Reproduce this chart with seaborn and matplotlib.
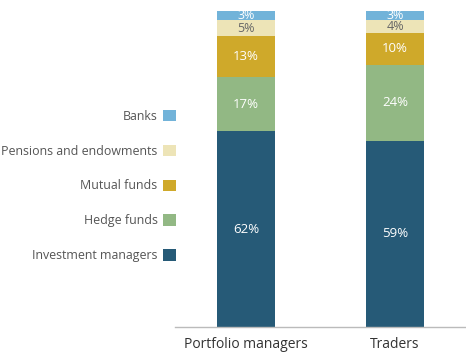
import matplotlib
matplotlib.use("Agg")
import matplotlib.pyplot as plt
import seaborn as sns
import numpy as np
from matplotlib.patches import Patch

groups = ["Portfolio managers", "Traders"]
segments = ["Investment managers", "Hedge funds", "Mutual funds", "Pensions and endowments", "Banks"]
investment = [62, 59]
hedge = [17, 24]
mutual = [13, 10]
pensions = [5, 4]
banks = [3, 3]
series = [investment, hedge, mutual, pensions, banks]
colors = ["#265a77", "#92b884", "#cfa92a", "#ede4b7", "#72b3d9"]
label_colors = ["white", "white", "white", "#666666", "white"]

sns.set_theme(style="white")
plt.rcParams["font.family"] = ["Open Sans", "DejaVu Sans"]

fig = plt.figure(figsize=(4.66, 3.63), dpi=100)
ax = fig.add_axes([175 / 466, 1 - 327 / 363, 291 / 466, 316 / 363])

bottom = np.zeros(len(groups))
for name, vals, col, lc in zip(segments, series, colors, label_colors):
    sns.barplot(x=groups, y=vals, bottom=bottom, color=col, width=0.39,
                ax=ax, saturation=1, linewidth=0)
    for i, v in enumerate(vals):
        ax.text(i, bottom[i] + v / 2, f"{v}%", ha="center", va="center",
                color=lc, fontsize=9.5 if v > 5 else 9, clip_on=True)
    bottom = bottom + np.array(vals)

ax.set_xlim(-0.4765, 1.4765)
ax.set_ylim(0, 100)
ax.set_yticks([])
ax.set_ylabel("")
for s in ["top", "left", "right"]:
    ax.spines[s].set_visible(False)
ax.spines["bottom"].set_color("#bbbbbb")
ax.spines["bottom"].set_linewidth(1)
ax.tick_params(axis="x", length=0, pad=7, labelsize=10, labelcolor="#333333")

handles = [Patch(facecolor=c, edgecolor="none") for c in colors][::-1]
labels = segments[::-1]
leg = fig.legend(handles, labels, loc="center right", bbox_to_anchor=(176 / 466, 1 - 186 / 363),
                 frameon=False, markerfirst=False, fontsize=8.9, handlelength=1.05,
                 handleheight=1.05, labelspacing=1.77, handletextpad=0.45,
                 borderpad=0, borderaxespad=0)
for t in leg.get_texts():
    t.set_color("#555555")
    t.set_ha("right")

fig.savefig("out.png", dpi=100)
